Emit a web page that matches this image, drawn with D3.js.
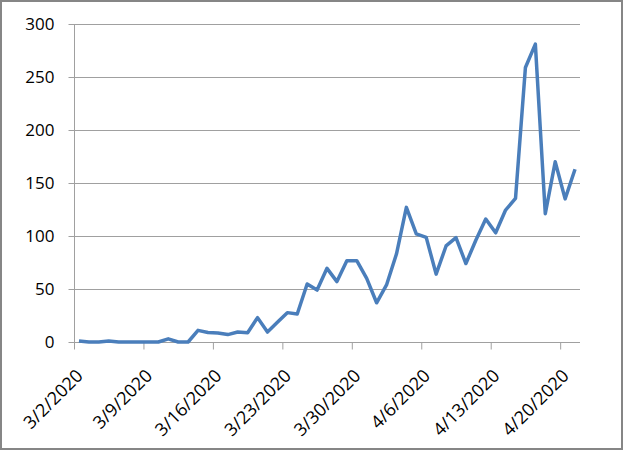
<!DOCTYPE html>
<html><head><meta charset="utf-8">
<script src="https://cdn.jsdelivr.net/npm/d3@7"></script>
<style>body{margin:0;background:#fff}svg{display:block}</style>
</head><body>
<svg id="c" width="624" height="452"></svg>
<script>
const startDate = "2020-03-02";
const values = [1,0,0,1,0,0,0,0,0,3,0,0,11,9,8.5,7,9.4,8.8,23,9.4,18.6,27.7,26.4,54.7,49,69.5,57,76.7,76.7,60,37,53.8,83,127,102,98.7,64,90.6,98.4,74,96,116,103,124.5,135.5,259,281,121,170,135,163];
const yTicks = [0,50,100,150,200,250,300];
const xTickLabels = ["3/2/2020","3/9/2020","3/16/2020","3/23/2020","3/30/2020","4/6/2020","4/13/2020","4/20/2020"];

const parse = d3.timeParse("%Y-%m-%d");
const t0 = parse(startDate);
const data = values.map((v,i)=>({date:d3.timeDay.offset(t0,i), value:v}));
const tEnd = d3.timeDay.offset(t0, values.length);

const svg = d3.select("#c");
const L=74, R=580, T=24, B=342;
const x = d3.scaleTime().domain([t0,tEnd]).range([L,R]);
const y = d3.scaleLinear().domain([0,300]).range([B,T]);

svg.append("rect").attr("x",1).attr("y",1).attr("width",621).attr("height",448)
  .attr("fill","#fff").attr("stroke","#868686").attr("stroke-width",2);

// gridlines
svg.append("g").selectAll("line").data(yTicks.filter(d=>d>0)).join("line")
  .attr("x1",L).attr("x2",R).attr("y1",d=>y(d)+0.5).attr("y2",d=>y(d)+0.5)
  .attr("stroke","#a0a0a0").attr("stroke-width",1);

// y axis
const ya = svg.append("g").attr("transform",`translate(${L+0.5},0)`)
  .call(d3.axisLeft(y).tickValues(yTicks).tickSize(6).tickPadding(14));
ya.select(".domain").attr("stroke","#a0a0a0").attr("d",`M0,${B+7}V${T}`);
ya.selectAll(".tick line").attr("stroke","#a0a0a0");
ya.selectAll("text").attr("font-family","'Open Sans', sans-serif").attr("font-size",17).attr("fill","#000").attr("dy","0.35em");

// x axis
const tickDates = xTickLabels.map(s=>{const p=s.split("/");return new Date(+p[2],+p[0]-1,+p[1]);});
const xa = svg.append("g").attr("transform",`translate(0,${B+0.5})`)
  .call(d3.axisBottom(x).tickValues(tickDates).tickSize(7).tickFormat((d,i)=>xTickLabels[i]));
xa.select(".domain").attr("stroke","#a0a0a0").attr("d",`M${L},0H${R}`);
xa.selectAll(".tick line").attr("stroke","#a0a0a0");
xa.selectAll("text").attr("font-family","'Open Sans', sans-serif").attr("font-size",18).attr("fill","#000")
  .attr("text-anchor","end").attr("dy","0.35em").attr("y",0)
  .attr("transform","translate(5,30) rotate(-45)");

// line
const line = d3.line().x(d=>x(d3.timeHour.offset(d.date,12))).y(d=>y(d.value));
svg.append("path").datum(data).attr("d",line).attr("fill","none")
  .attr("stroke","#4a7ebb").attr("stroke-width",3.5).attr("stroke-linejoin","round");
</script>
</body></html>
